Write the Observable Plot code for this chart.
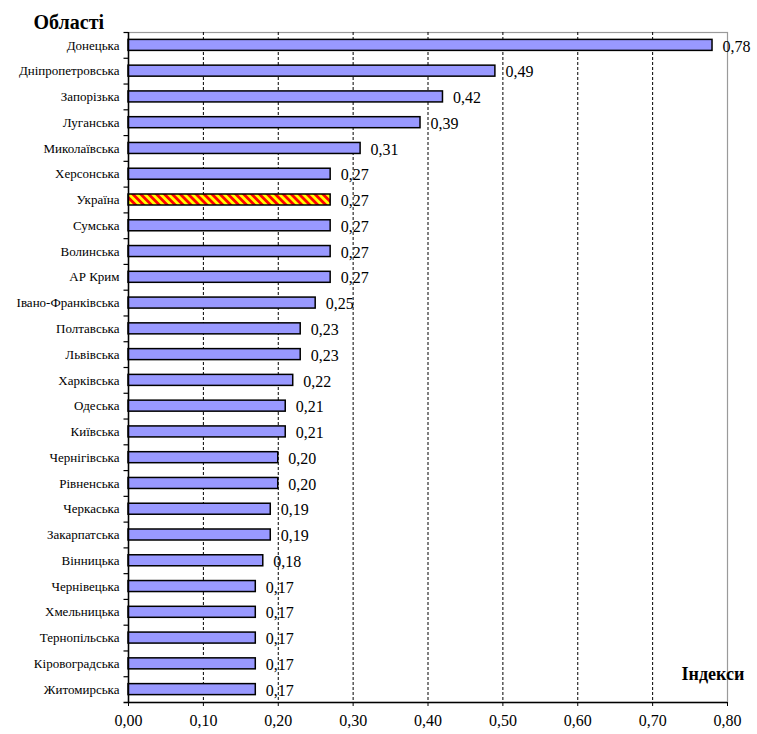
<!DOCTYPE html>
<html>
<head>
<meta charset="utf-8">
<script src="https://cdn.jsdelivr.net/npm/d3@7"></script>
<script src="https://cdn.jsdelivr.net/npm/@observablehq/plot@0.6"></script>
<style>
  body { margin: 0; background: #fff; }
  svg { display: block; }
  svg text { font-family: "Liberation Serif", "Times New Roman", serif; }
</style>
</head>
<body>
<div id="chart"></div>
<script>
// Regions of Ukraine, ordered top to bottom, and their index values
const regions = [
  "Донецька", "Дніпропетровська", "Запорізька", "Луганська", "Миколаївська",
  "Херсонська", "Україна", "Сумська", "Волинська", "АР Крим",
  "Івано-Франківська", "Полтавська", "Львівська", "Харківська", "Одеська",
  "Київська", "Чернігівська", "Рівненська", "Черкаська", "Закарпатська",
  "Вінницька", "Чернівецька", "Хмельницька", "Тернопільська", "Кіровоградська",
  "Житомирська"
];
const values = [
  0.78, 0.49, 0.42, 0.39, 0.31,
  0.27, 0.27, 0.27, 0.27, 0.27,
  0.25, 0.23, 0.23, 0.22, 0.21,
  0.21, 0.20, 0.20, 0.19, 0.19,
  0.18, 0.17, 0.17, 0.17, 0.17,
  0.17
];
const highlight = "Україна";
const xTicks = [0, 0.1, 0.2, 0.3, 0.4, 0.5, 0.6, 0.7, 0.8];
const gridTicks = [0.1, 0.2, 0.3, 0.4, 0.5, 0.6, 0.7];
const yTitle = "Області";
const xTitle = "Індекси";

const rows = regions.map((region, i) => ({region, value: values[i]}));
const fmt = v => d3.format(".2f")(v).replace(".", ",");
const serif = "'Liberation Serif', 'Times New Roman', serif";

const W = 757, H = 734;
const mTop = 32, mBottom = 32, mLeft = 128, mRight = 30;
const step = (H - mTop - mBottom) / regions.length;
const padInner = 0.573;

const chart = Plot.plot({
  width: W,
  height: H,
  marginTop: mTop,
  marginBottom: mBottom,
  marginLeft: mLeft,
  marginRight: mRight,
  style: {fontFamily: serif, color: "#000", background: "#fff", overflow: "visible"},
  x: {domain: [0, 0.8]},
  y: {domain: regions, paddingInner: padInner, paddingOuter: padInner / 2, round: false},
  marks: [
    Plot.frame({stroke: "#9a9a9a", strokeWidth: 1.2}),
    Plot.ruleX(gridTicks, {stroke: "#000", strokeWidth: 1, strokeDasharray: "3,2"}),
    Plot.barX(rows.filter(d => d.region !== highlight), {
      x: "value", y: "region", fill: "#9999ff", stroke: "#000", strokeWidth: 1.5
    }),
    Plot.barX(rows.filter(d => d.region === highlight), {
      x: "value", y: "region", fill: "url(#ukr-stripes)", stroke: "#000", strokeWidth: 1.5
    }),
    Plot.text(rows, {
      x: "value", y: "region", text: d => fmt(d.value),
      textAnchor: "start", dx: 10, dy: 1, fontSize: 16, fill: "#000", fontFamily: serif
    }),
    // left axis line and category separators
    Plot.ruleX([0], {stroke: "#000", strokeWidth: 1.5}),
    Plot.ruleY(regions, {y: d => d, x1: -0.006, x2: 0, dy: -step / 2, stroke: "#000", strokeWidth: 1.2}),
    Plot.ruleY([regions[regions.length - 1]], {x1: -0.006, x2: 0.8, dy: step / 2, stroke: "#000", strokeWidth: 1.5}),
    Plot.axisY({tickSize: 0, tickPadding: 9, fontSize: 13, label: null, fontFamily: serif}),
    Plot.axisX({ticks: xTicks, tickFormat: fmt, tickSize: 4, tickPadding: 8, fontSize: 16, label: null, fontFamily: serif}),
    Plot.text([yTitle], {
      frameAnchor: "top-left", text: d => d, textAnchor: "start",
      dx: -95, dy: -18, fontSize: 20, fontWeight: "bold", fontFamily: serif
    }),
    Plot.text([xTitle], {
      frameAnchor: "bottom-right", text: d => d, textAnchor: "start",
      dx: -46, dy: -23, fontSize: 18, fontWeight: "bold", fontFamily: serif
    })
  ]
});

// Diagonal yellow/red hatching for the national total
const defs = d3.select(chart).insert("defs", ":first-child");
const pat = defs.append("pattern")
  .attr("id", "ukr-stripes")
  .attr("patternUnits", "userSpaceOnUse")
  .attr("width", 5.6)
  .attr("height", 5.6)
  .attr("patternTransform", "rotate(-45)");
pat.append("rect").attr("width", 5.6).attr("height", 5.6).attr("fill", "#ffff00");
pat.append("rect").attr("width", 2.8).attr("height", 5.6).attr("fill", "#ff0000");

document.getElementById("chart").append(chart);
</script>
</body>
</html>
